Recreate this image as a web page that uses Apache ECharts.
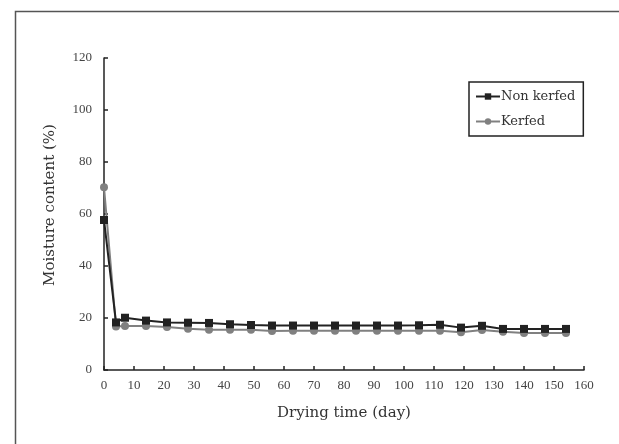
<!DOCTYPE html>
<html>
<head>
<meta charset="utf-8">
<script src="https://cdn.jsdelivr.net/npm/echarts@6/dist/echarts.min.js"></script>
<style>
  html, body { margin: 0; padding: 0; background: #fff; }
  #main { width: 619px; height: 444px; }
</style>
</head>
<body>
<div id="main"></div>
<script>
// 干燥天数
const days = [0, 4, 7, 14, 21, 28, 35, 42, 49, 56, 63, 70, 77, 84, 91, 98, 105, 112, 119, 126, 133, 140, 147, 154]
// 含水率 (%)
const nonKerfed = [57.7, 18.3, 20.1, 19.0, 18.3, 18.2, 18.1, 17.6, 17.3, 17.1, 17.1, 17.1, 17.1, 17.1, 17.1, 17.1, 17.2, 17.4, 16.3, 17.0, 15.8, 15.8, 15.8, 15.8]
const kerfed = [70.3, 16.7, 16.9, 16.9, 16.5, 15.9, 15.5, 15.5, 15.5, 15.0, 15.1, 15.1, 15.1, 15.1, 15.1, 15.1, 15.1, 15.1, 14.5, 15.4, 14.7, 14.2, 14.2, 14.2]
const seriesNames = ['Non kerfed', 'Kerfed']

const font = 'Liberation Serif'
const titleFont = 'DejaVu Serif'
const chart = echarts.init(document.getElementById('main'), null, { renderer: 'canvas' })

const pair = (xs, ys) => xs.map((d, i) => [d, ys[i]])

chart.setOption({
  animation: false,
  grid: { left: 104, right: 35, top: 58, bottom: 74 },
  graphic: [
    {
      type: 'rect',
      left: 13, top: 9,
      shape: { width: 640, height: 460 },
      style: { fill: 'none', stroke: '#555', lineWidth: 1.5 },
    },
    {
      type: 'text',
      x: 50, y: 205,
      rotation: Math.PI / 2,
      style: {
        text: 'Moisture content (%)',
        font: '15px "' + titleFont + '"',
        fill: '#333',
        align: 'center',
        verticalAlign: 'middle',
      },
    },
  ],
  legend: {
    orient: 'vertical',
    left: 469, top: 82,
    padding: [8, 8, 8, 6],
    itemGap: 12,
    itemWidth: 24,
    itemHeight: 8,
    borderColor: '#222',
    borderWidth: 1.5,
    textStyle: { fontFamily: titleFont, fontSize: 13, color: '#333', padding: [0, 0, 0, -4] },
    data: seriesNames,
  },
  xAxis: {
    type: 'value',
    min: 0, max: 160, interval: 10,
    name: 'Drying time (day)',
    nameLocation: 'middle',
    nameGap: 36,
    nameTextStyle: { fontFamily: titleFont, fontSize: 15, color: '#333' },
    axisLine: { lineStyle: { color: '#222', width: 1.5 } },
    axisTick: { inside: true, length: 4, lineStyle: { color: '#222', width: 1.5 } },
    axisLabel: { fontFamily: font, fontSize: 13, color: '#444', margin: 9 },
    splitLine: { show: false },
  },
  yAxis: {
    type: 'value',
    min: 0, max: 120, interval: 20,
    axisLine: { show: true, lineStyle: { color: '#222', width: 1.5 } },
    axisTick: { show: true, inside: true, length: 4, lineStyle: { color: '#222', width: 1.5 } },
    axisLabel: { fontFamily: font, fontSize: 13, color: '#444', margin: 12 },
    splitLine: { show: false },
  },
  series: [
    {
      name: seriesNames[0],
      type: 'line',
      data: pair(days, nonKerfed),
      symbol: 'rect',
      symbolSize: 8,
      lineStyle: { color: '#222', width: 2 },
      itemStyle: { color: '#222' },
      z: 3,
    },
    {
      name: seriesNames[1],
      type: 'line',
      data: pair(days, kerfed),
      symbol: 'circle',
      symbolSize: 8,
      lineStyle: { color: '#808080', width: 2 },
      itemStyle: { color: '#808080' },
      z: 2,
    },
  ],
})
</script>
</body>
</html>
